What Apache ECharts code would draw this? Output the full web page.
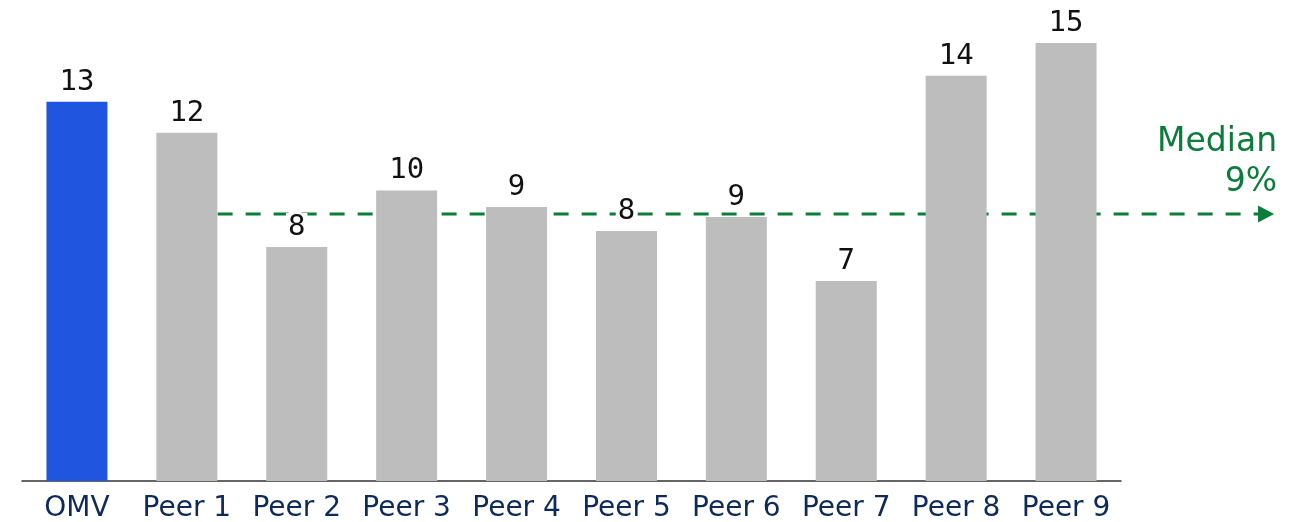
<!DOCTYPE html>
<html>
<head>
<meta charset="utf-8">
<script src="https://cdn.jsdelivr.net/npm/echarts@6/dist/echarts.min.js"></script>
<style>
html,body{margin:0;padding:0;background:#fff;}
#chart{width:1301px;height:522px;}
</style>
</head>
<body>
<div id="chart"></div>
<script>
const categories = ['OMV','Peer 1','Peer 2','Peer 3','Peer 4','Peer 5','Peer 6','Peer 7','Peer 8','Peer 9'];
const values = [13.05, 11.98, 8.05, 10.0, 9.43, 8.6, 9.08, 6.88, 13.94, 15.07];
const valueLabels = ['13','12','8','10','9','8','9','7','14','15'];
const medianValue = 9.19;
const medianLabel = 'Median\n9%';
const medianStart = 1.28;   // in category-index units
const medianEnd = 10.82;

const BLUE = '#1f55df';
const GREY = '#bdbdbd';
const GREEN = '#0b7d3a';
const NAVY = '#0d2a5c';

// bar grid spans 10 category slots; overlay grid is wider and uses the same unit scale
const barGrid = {left: 22, right: 180, top: 16, bottom: 41, containLabel: false, outerBoundsMode: 'none'};
const overlayGrid = {left: 22, right: 21, top: 16, bottom: 41, containLabel: false, outerBoundsMode: 'none'};
const W = 1301;
const unitsPerPx = categories.length / (W - barGrid.left - barGrid.right);
const overlayMax = -0.5 + (W - overlayGrid.left - overlayGrid.right) * unitsPerPx;

const chart = echarts.init(document.getElementById('chart'), null, {renderer:'canvas'});
chart.setOption({
  animation: false,
  grid: [barGrid, overlayGrid],
  xAxis: [
    {
      type: 'category', data: categories, gridIndex: 0,
      axisLine: {lineStyle: {color: '#333', width: 1.5}},
      axisTick: {show: false},
      axisLabel: {color: NAVY, fontSize: 28, fontFamily: 'DejaVu Sans', margin: 14, interval: 0}
    },
    {type: 'value', gridIndex: 1, min: -0.5, max: overlayMax, show: false, splitLine: {show: false}}
  ],
  yAxis: [
    {type: 'value', gridIndex: 0, min: 0, max: 16, show: false, splitLine: {show: false}},
    {type: 'value', gridIndex: 1, min: 0, max: 16, show: false, splitLine: {show: false}}
  ],
  series: [
    {
      type: 'line', z: 1, zlevel: 0, xAxisIndex: 1, yAxisIndex: 1,
      data: [
        {value: [medianStart, medianValue], symbol: 'none'},
        {value: [medianEnd, medianValue], symbol: 'triangle', symbolSize: [17, 16], symbolRotate: -90,
         label: {show: true, position: 'top', align: 'right', offset: [11, 2],
                 formatter: medianLabel, color: GREEN, fontSize: 33, lineHeight: 40,
                 fontFamily: 'DejaVu Sans'}}
      ],
      showSymbol: true,
      itemStyle: {color: GREEN},
      lineStyle: {color: GREEN, width: 3, type: [15, 13]}
    },
    {
      type: 'bar', z: 10, zlevel: 0, xAxisIndex: 0, yAxisIndex: 0,
      data: values.map((v, i) => ({value: v, itemStyle: {color: i === 0 ? BLUE : GREY}})),
      barWidth: 61,
      label: {
        show: true, position: 'top', distance: 5,
        formatter: p => valueLabels[p.dataIndex],
        color: '#111', fontSize: 29, fontFamily: 'DejaVu Sans Mono',
        backgroundColor: '#fff', padding: [0, 2]
      }
    }
  ]
});
</script>
</body>
</html>
